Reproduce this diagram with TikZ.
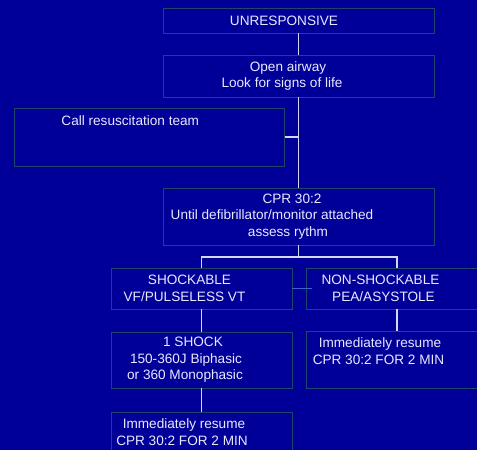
\documentclass[tikz,border=0pt]{standalone}
\usepackage{fontspec}
\setmainfont{Liberation Sans}
\usepackage{tikz}
\usetikzlibrary{arrows.meta,positioning}
\usepackage{xcolor}
\definecolor{slide}{RGB}{0,0,153}
\definecolor{frame}{RGB}{28,72,104}
\definecolor{wire}{RGB}{214,214,245}
\definecolor{ink}{RGB}{232,232,255}
\definecolor{tick}{RGB}{60,100,200}
\newcommand{\gap}[1]{\hbox to #1pt{\hfil}}

\begin{document}
\begin{tikzpicture}[
  x=1pt, y=-1pt,
  box/.style={draw=frame, fill=slide, line width=0.9pt, rectangle,
              inner sep=0pt, text=ink, align=center,
              font=\fontsize{13.6}{16.5}\selectfont},
  link/.style={draw=wire, line width=1.2pt},
  every node/.style={align=center}
]

%% Background
\fill[slide] (0,0) rectangle (477,450);
\useasboundingbox (0,0) rectangle (477,450);
\clip (0,0) rectangle (477,450);

%% Main column
\node[box, minimum width=271pt, minimum height=25pt] (unresp) at (298.5,20.5)
  {UNRESPONSIVE\gap{29}};
\node[box, minimum width=271pt, minimum height=42pt] (airway) at (298.5,76)
  {Open airway\gap{21}\\Look for signs of life\gap{33}};
\node[box, minimum width=270pt, minimum height=58pt] (team) at (149.25,137)
  {Call resuscitation team\gap{38}\\\mbox{}\\\mbox{}};
\node[box, minimum width=271pt, minimum height=57pt] (cpr) at (298.5,216.5)
  {CPR 30:2\gap{13}\\Until defibrillator/monitor attached\gap{53}\\assess rythm\gap{21}};

%% Rhythm branches
\node[box, minimum width=181pt, minimum height=41pt] (shock) at (201.5,288.5)
  {SHOCKABLE\gap{24}\\VF/PULSELESS VT\gap{34}};
\node[box, minimum width=182pt, minimum height=41pt] (nonshock) at (397,288.5)
  {NON-SHOCKABLE\gap{33}\\PEA/ASYSTOLE\gap{27}};

%% Actions
\node[box, minimum width=181pt, minimum height=56pt] (oneshock) at (201.5,360)
  {1 SHOCK\gap{17}\\150-360J Biphasic\gap{31}\\or 360 Monophasic\gap{33}};
\node[box, minimum width=182pt, minimum height=57pt] (resumeR) at (397,359.5)
  {Immediately resume\gap{34}\\CPR 30:2 FOR 2 MIN\gap{37}\\\mbox{}};
\node[box, minimum width=181pt, minimum height=57pt] (resumeL) at (201.5,440.5)
  {Immediately resume\gap{35}\\CPR 30:2 FOR 2 MIN\gap{39}\\\mbox{}};

%% Connectors
\coordinate (split) at (298.5,257);
\draw[link] (unresp.south) -- (airway.north);
\draw[link] (airway.south) -- (cpr.north);
\draw[link] (team.east) -- (team.east -| cpr.north);
\draw[link] (cpr.south) -- (split);
\draw[link] (shock.north) |- (split) -| (nonshock.north);
\draw[link] (shock.south) -- (oneshock.north);
\draw[link] (oneshock.south) -- (resumeL.north);
\draw[link] (nonshock.south) -- (resumeR.north);
\draw[draw=tick, line width=1.2pt] (shock.east) -- ++(20,0);

\end{tikzpicture}
\end{document}
